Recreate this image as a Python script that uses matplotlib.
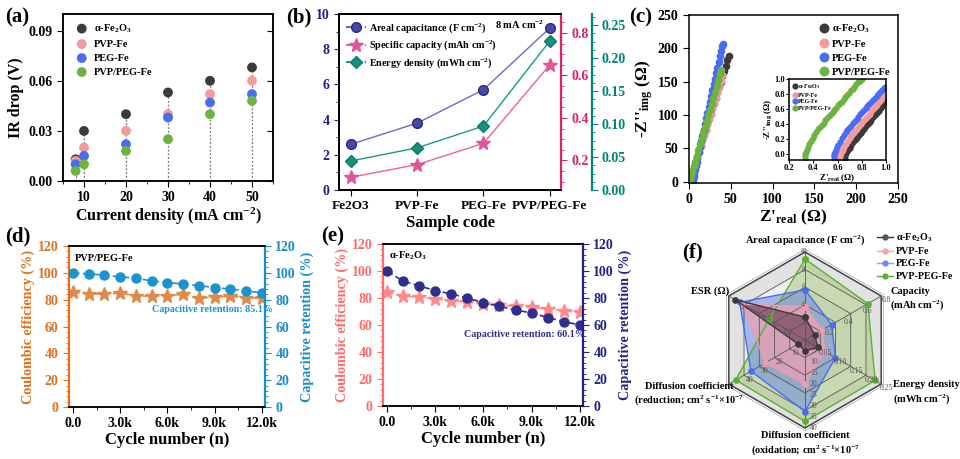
import matplotlib
matplotlib.use("Agg")
import matplotlib.pyplot as plt
import numpy as np
from matplotlib.lines import Line2D
from matplotlib.ticker import MultipleLocator, AutoMinorLocator, FuncFormatter

plt.rcParams["font.family"] = ["Liberation Serif", "DejaVu Serif"]
plt.rcParams["font.weight"] = "bold"
plt.rcParams["axes.labelweight"] = "bold"
plt.rcParams["mathtext.default"] = "regular"
plt.rcParams["axes.linewidth"] = 1.1

# ---------------- datos ----------------
# (a) IR drop
current_density = [8, 10, 20, 30, 40, 50]
ir_fe2o3 = [0.013, 0.030, 0.040, 0.053, 0.060, 0.068]
ir_pvp = [0.012, 0.020, 0.030, 0.040, 0.052, 0.060]
ir_peg = [0.010, 0.015, 0.022, 0.038, 0.047, 0.052]
ir_pvp_peg = [0.006, 0.010, 0.018, 0.025, 0.040, 0.048]

# (b) desempeño a 8 mA cm-2
samples = ["Fe2O3", "PVP-Fe", "PEG-Fe", "PVP/PEG-Fe"]
areal_cap = [2.6, 3.8, 5.7, 9.2]
spec_cap = [0.12, 0.18, 0.28, 0.65]
energy_den = [0.044, 0.064, 0.097, 0.226]

# (c) Nyquist
nyq_fe2o3_x = [0.7, 1.2, 2, 3, 4.5, 6, 8, 10, 12, 14, 16, 18, 20, 22, 24, 26, 28, 30,
               32, 34, 36, 38, 40, 42, 44, 46, 47.5]
nyq_fe2o3_y = [0, 1, 4, 8, 14, 21, 29, 37, 45, 53, 62, 70, 78, 86, 94, 102, 110, 118,
               126, 134, 142, 150, 158, 166, 174, 182, 188]
nyq_pvp_x = [0.6, 1.1, 2, 3, 4.5, 6, 8, 10, 12, 14, 16, 18, 20, 22, 24, 26, 28, 30,
             32, 34, 36, 38, 40]
nyq_pvp_y = [0, 1, 4, 8, 14, 21, 29, 37, 46, 54, 62, 70, 78, 86, 94, 102, 110, 118,
             126, 134, 142, 151, 160]
nyq_peg_x = [4.5, 5, 5.5, 6, 7, 8, 9, 10, 11.5, 13, 14.5, 16, 17.5, 19, 20.5, 22, 23.5,
             25, 26.5, 28, 29.5, 31, 32.5, 34, 35.5, 37, 38.5, 40, 41]
nyq_peg_y = [0, 3, 7, 12, 18, 24, 30, 36, 44, 52, 61, 69, 78, 86, 95, 103, 112, 120,
             129, 137, 146, 154, 163, 171, 180, 188, 196, 203, 206]
nyq_pvp_peg_x = [0.3, 0.6, 1, 1.5, 2.5, 4, 5.5, 7, 9, 11, 13, 15, 17, 19, 21, 23, 25,
                 27, 29, 31, 33, 35, 37, 38.6]
nyq_pvp_peg_y = [0, 2, 4, 6, 10, 16, 23, 29, 38, 47, 56, 64, 73, 82, 91, 100, 108, 117,
                 126, 135, 143, 152, 161, 167]

# (c) inset, zona de alta frecuencia
ins_fe2o3_x = [0.660, 0.662, 0.665, 0.670, 0.678, 0.688, 0.700, 0.715, 0.730, 0.745,
               0.760, 0.775, 0.790, 0.805, 0.820, 0.835, 0.850, 0.865, 0.880, 0.895,
               0.910, 0.925, 0.940, 0.955, 0.970, 0.985, 1.000]
ins_fe2o3_y = [-0.06, -0.03, 0.0, 0.02, 0.04, 0.06, 0.08, 0.12, 0.16, 0.19, 0.22, 0.25,
               0.28, 0.31, 0.34, 0.37, 0.40, 0.43, 0.46, 0.49, 0.52, 0.55, 0.58, 0.61,
               0.64, 0.68, 0.72]
ins_pvp_x = [0.615, 0.617, 0.620, 0.625, 0.633, 0.643, 0.655, 0.670, 0.685, 0.700, 0.715,
             0.730, 0.745, 0.760, 0.775, 0.790, 0.805, 0.820, 0.835, 0.850, 0.865, 0.880,
             0.895, 0.910, 0.925, 0.940, 0.955, 0.970, 0.985, 1.000]
ins_pvp_y = [-0.06, -0.03, 0.0, 0.02, 0.04, 0.06, 0.09, 0.14, 0.18, 0.22, 0.25, 0.28,
             0.31, 0.34, 0.37, 0.40, 0.43, 0.45, 0.48, 0.51, 0.54, 0.57, 0.60, 0.63,
             0.66, 0.69, 0.72, 0.75, 0.78, 0.81]
ins_peg_x = [0.568, 0.570, 0.573, 0.578, 0.586, 0.596, 0.608, 0.622, 0.637, 0.652, 0.667,
             0.682, 0.697, 0.712, 0.727, 0.742, 0.757, 0.772, 0.787, 0.802, 0.817, 0.832,
             0.847, 0.862, 0.877, 0.892, 0.907, 0.922, 0.937, 0.952, 0.967, 0.982, 0.995]
ins_peg_y = [-0.06, -0.03, 0.0, 0.03, 0.06, 0.09, 0.12, 0.16, 0.21, 0.25, 0.29, 0.32,
             0.35, 0.38, 0.41, 0.44, 0.47, 0.50, 0.53, 0.56, 0.59, 0.61, 0.64, 0.67,
             0.70, 0.72, 0.75, 0.77, 0.80, 0.83, 0.85, 0.88, 0.90]
ins_pvp_peg_x = [0.330, 0.331, 0.334, 0.338, 0.345, 0.355, 0.367, 0.380, 0.395, 0.410,
                 0.425, 0.440, 0.455, 0.470, 0.485, 0.500, 0.515, 0.530, 0.545, 0.560,
                 0.575, 0.590, 0.605, 0.620, 0.635, 0.650, 0.665, 0.680, 0.695, 0.710,
                 0.725, 0.740, 0.755, 0.770, 0.785, 0.800]
ins_pvp_peg_y = [-0.06, -0.03, 0.0, 0.03, 0.06, 0.10, 0.14, 0.18, 0.22, 0.26, 0.29, 0.33,
                 0.36, 0.39, 0.42, 0.45, 0.48, 0.51, 0.54, 0.56, 0.59, 0.62, 0.65, 0.68,
                 0.70, 0.73, 0.76, 0.79, 0.82, 0.85, 0.87, 0.90, 0.93, 0.96, 0.98, 1.0]

# (d) y (e) ciclado
cycles = [0, 1000, 2000, 3000, 4000, 5000, 6000, 7000, 8000, 9000, 10000, 11000, 12000]
ce_pvp_peg = [85.5, 84.5, 84, 85, 83, 82.5, 83, 84, 81, 82, 82.5, 81.5, 81]
ret_pvp_peg = [100, 99.2, 98.3, 97, 96, 94, 92.7, 91.7, 90.5, 89, 87.9, 86.6, 85.1]
ce_fe2o3 = [84.5, 81.5, 80.5, 79.5, 78, 77, 75.5, 74.5, 74, 73, 72, 70.5, 69.5]
ret_fe2o3 = [100, 92.5, 89, 85.5, 83, 80, 76.5, 74, 71, 69, 65.5, 62.5, 60.1]

# (f) radar
radar_labels = ["Areal capacitance (F cm$^{-2}$)", "Capacity\n(mAh cm$^{-2}$)",
                "Energy density\n(mWh cm$^{-2}$)",
                "Diffusion coefficient\n(oxidation; cm$^{2}$ s$^{-1}$×10$^{-7}$",
                "Diffusion coefficient\n(reduction; cm$^{2}$ s$^{-1}$×10$^{-7}$",
                "ESR (Ω)"]
radar_max = [10, 0.8, 0.25, 40, 50, 0.7]
radar_ticks = [[2, 4, 6, 8, 10], [0.2, 0.4, 0.6, 0.8], [0.05, 0.10, 0.15, 0.20, 0.25],
               [5, 10, 15, 20, 25, 30, 35, 40], [10, 20, 30, 40], [0.0, 0.2, 0.4, 0.6]]
radar_tick_fmt = ["{:g}", "{:.1f}", "{:.2f}", "{:g}", "{:g}", "{:.1f}"]
radar_fe2o3 = [2.6, 0.10, 0.042, 5, 4.5, 0.64]
radar_pvp = [3.8, 0.18, 0.065, 20, 26, 0.57]
radar_peg = [5.7, 0.28, 0.10, 32.5, 35.5, 0.60]
radar_pvp_peg = [9.2, 0.66, 0.23, 37, 45.5, 0.33]

names = ["α-Fe$_2$O$_3$", "PVP-Fe", "PEG-Fe", "PVP/PEG-Fe"]
c_fe = "#3a3a3a"
c_pvp = "#f49a9a"
c_peg = "#4a6cf0"
c_mix = "#6cb33f"

W, H = 960, 459
fig = plt.figure(figsize=(9.6, 4.59), dpi=100)


def px_axes(l, r, t, b):
    return fig.add_axes([l / W, 1 - b / H, (r - l) / W, (b - t) / H])


TICK = 10
LAB = 11

# ---------------- (a) ----------------
ax = px_axes(63, 273, 14, 181)
tops = np.max([ir_fe2o3, ir_pvp, ir_peg, ir_pvp_peg], axis=0)
ax.vlines(current_density, 0, tops, colors="#777777", linestyles=(0, (1.5, 1.5)), lw=0.9)
for ys, c, n in zip([ir_fe2o3, ir_pvp, ir_peg, ir_pvp_peg], [c_fe, c_pvp, c_peg, c_mix], names):
    ax.scatter(current_density, ys, s=50, color=c, edgecolor="none", zorder=3, label=n)
ax.set_xlim(5, 55)
ax.set_ylim(0, 0.1)
ax.xaxis.set_major_locator(MultipleLocator(10))
ax.xaxis.set_minor_locator(MultipleLocator(5))
ax.yaxis.set_major_locator(MultipleLocator(0.03))
ax.yaxis.set_major_formatter(FuncFormatter(lambda v, p: f"{v:.2f}"))
ax.tick_params(labelsize=TICK, length=4)
ax.tick_params(which="minor", length=2)
axr = ax.twinx()
axr.set_ylim(0, 0.1)
axr.yaxis.set_major_locator(MultipleLocator(0.03))
axr.tick_params(direction="in", labelright=False, length=4)
ax.set_xlabel("Current density (mA cm$^{-2}$)", fontsize=LAB + 0.5, labelpad=1)
ax.set_ylabel("IR drop (V)", fontsize=LAB + 0.5, labelpad=3)
ax.legend(loc="upper left", frameon=False, fontsize=7.5, handletextpad=0.2,
          borderaxespad=0.4, labelspacing=0.45, scatterpoints=1)

# ---------------- (b) ----------------
c_areal = "#1f1f8f"
c_spec = "#d6246e"
c_en = "#008577"
bx = px_axes(339, 561, 14, 190)
xpos = np.arange(len(samples))
bx.plot(xpos, areal_cap, "-", color="#6a6acd", lw=1.0, marker="o", ms=7,
        mfc="#4848a8", mec="#2a2a80")
bx.set_xlim(-0.18, 3.17)
bx.set_ylim(0, 10)
bx.set_xticks(xpos)
bx.set_xticklabels(samples)
bx.yaxis.set_major_locator(MultipleLocator(2))
bx.yaxis.set_minor_locator(MultipleLocator(1))
bx.tick_params(axis="y", colors=c_areal, labelsize=TICK)
bx.tick_params(axis="x", labelsize=9.5, length=4)
bx.spines["left"].set_color(c_areal)
bx.set_xlabel("Sample code", fontsize=LAB + 1, labelpad=2)

bx2 = bx.twinx()
bx2.plot(xpos, spec_cap, "-", color="#f0609a", lw=1.0, marker="*", ms=10,
         mfc="#e0559a", mec="#e0559a")
bx2.set_ylim(0.06, 0.89)
bx2.yaxis.set_major_locator(MultipleLocator(0.2))
bx2.yaxis.set_minor_locator(MultipleLocator(0.05))
bx2.tick_params(axis="y", which="both", colors=c_spec, labelsize=TICK)
bx2.spines["right"].set_color(c_spec)
bx2.spines["right"].set_linewidth(1.6)

bx3 = bx.twinx()
bx3.spines["right"].set_position(("outward", 22))
bx3.plot(xpos, energy_den, "-", color="#1a9a8a", lw=1.0, marker="D", ms=6,
         mfc="#14907f", mec="#0f7a6c")
bx3.set_ylim(0, 0.267)
bx3.yaxis.set_major_locator(MultipleLocator(0.05))
bx3.yaxis.set_minor_locator(MultipleLocator(0.0125))
bx3.yaxis.set_major_formatter(FuncFormatter(lambda v, p: f"{v:.2f}"))
bx3.tick_params(axis="y", which="both", colors=c_en, labelsize=TICK)
bx3.spines["right"].set_color(c_en)
bx3.spines["right"].set_linewidth(1.6)
for a in (bx2, bx3):
    a.tick_params(which="major", length=4)
    a.tick_params(which="minor", length=2)

leg_b = [
    Line2D([], [], color="#6a6acd", ls=(0, (3, 1.5)), marker="o", ms=7, mfc="#4848a8",
           mec="#2a2a80", label="Areal capacitance (F cm$^{-2}$)"),
    Line2D([], [], color="#f0609a", ls=(0, (3, 1.5)), marker="*", ms=10, mfc="#e0559a",
           mec="#e0559a", label="Specific capacity (mAh cm$^{-2}$)"),
    Line2D([], [], color="#1a9a8a", ls=(0, (3, 1.5)), marker="D", ms=6, mfc="#14907f",
           mec="#0f7a6c", label="Energy density (mWh cm$^{-2}$)"),
]
bx3.legend(handles=leg_b, loc="upper left", frameon=False, fontsize=7.3, handlelength=2.0,
           handletextpad=0.3, borderaxespad=0.3, labelspacing=0.35)
bx.text(2.17, 9.4, "8 mA cm$^{-2}$", fontsize=7.5, ha="left", va="center")

# ---------------- (c) ----------------
cx = px_axes(689, 898, 15, 183)
for xs, ys, c, n in zip([nyq_fe2o3_x, nyq_pvp_x, nyq_peg_x, nyq_pvp_peg_x],
                        [nyq_fe2o3_y, nyq_pvp_y, nyq_peg_y, nyq_pvp_peg_y],
                        [c_fe, c_pvp, c_peg, c_mix], names):
    cx.plot(xs, ys, "o", ms=5.5, color=c, mec="none", label=n)
cx.set_xlim(0, 250)
cx.set_ylim(-2, 250)
cx.xaxis.set_major_locator(MultipleLocator(50))
cx.yaxis.set_major_locator(MultipleLocator(50))
cx.tick_params(labelsize=TICK, length=4)
cx.set_xlabel("Z'$_{real}$ (Ω)", fontsize=LAB + 1.5, labelpad=1)
cx.set_ylabel("-Z''$_{img}$ (Ω)", fontsize=LAB + 1.5, labelpad=2)
cx.legend(loc="upper right", frameon=False, fontsize=7.5, handletextpad=0.3,
          borderaxespad=0.3, labelspacing=0.45, markerscale=1.3, handlelength=1.0)

ix = px_axes(789, 886, 79, 160)
for xs, ys, c, n in zip([ins_fe2o3_x, ins_pvp_x, ins_peg_x, ins_pvp_peg_x],
                        [ins_fe2o3_y, ins_pvp_y, ins_peg_y, ins_pvp_peg_y],
                        [c_fe, c_pvp, c_peg, c_mix],
                        ["α-Fe$_2$O$_3$", "PVP-Fe", "PEG-Fe", "PVP/PEG-Fe"]):
    ix.plot(xs, ys, "o", ms=4.5, color=c, mec="none", label=n)
ix.set_xlim(0.2, 1.0)
ix.set_ylim(-0.08, 1.0)
ix.xaxis.set_major_locator(MultipleLocator(0.2))
ix.yaxis.set_major_locator(MultipleLocator(0.2))
ix.yaxis.set_minor_locator(MultipleLocator(0.05))
ix.tick_params(labelsize=6, length=2, pad=1)
ix.tick_params(which="minor", length=1)
ix.set_xlabel("Z'$_{real}$ (Ω)", fontsize=6.5, labelpad=0)
ix.set_ylabel("-Z''$_{img}$ (Ω)", fontsize=6.5, labelpad=0)
ix.legend(loc="upper left", frameon=False, fontsize=4.3, handletextpad=0.1,
          borderaxespad=0.2, labelspacing=0.2, handlelength=0.8)

# ---------------- (d) y (e) ----------------
kfmt = FuncFormatter(lambda v, p: "0.0" if v == 0 else f"{v / 1000:.1f}k")


def cycling(l, r, t, b, ce, ret, c_left, c_star, c_right, c_ball, title, ret_text, ret_pos):
    a = px_axes(l, r, t, b)
    a.plot(cycles, ce, ls=(0, (4, 2)), color=c_star, lw=1.2, marker="*", ms=10,
           mfc=c_star, mec=c_star)
    a.set_xlim(-250, 12200)
    a.set_ylim(0, 120)
    a.xaxis.set_major_locator(MultipleLocator(3000))
    a.xaxis.set_minor_locator(MultipleLocator(1500))
    a.xaxis.set_major_formatter(kfmt)
    a.yaxis.set_major_locator(MultipleLocator(20))
    a.yaxis.set_minor_locator(AutoMinorLocator(5))
    a.tick_params(axis="y", which="both", colors=c_left)
    a.tick_params(labelsize=TICK, length=4)
    a.tick_params(which="minor", length=2)
    a.spines["left"].set_color(c_left)
    a.spines["left"].set_linewidth(1.6)
    a.set_xlabel("Cycle number (n)", fontsize=LAB + 1, labelpad=1)
    a.set_ylabel("Coulombic efficiency (%)", fontsize=LAB - 0.8, color=c_left, labelpad=2)
    a2 = a.twinx()
    a2.plot(cycles, ret, ls=(0, (4, 2)), color=c_ball, lw=1.2, marker="o", ms=6.5,
            mfc=c_ball, mec=c_ball)
    a2.set_ylim(0, 120)
    a2.yaxis.set_major_locator(MultipleLocator(20))
    a2.yaxis.set_minor_locator(AutoMinorLocator(5))
    a2.tick_params(axis="y", which="both", colors=c_right, labelsize=TICK)
    a2.tick_params(which="major", length=4)
    a2.tick_params(which="minor", length=2)
    a2.spines["right"].set_color(c_right)
    a2.spines["right"].set_linewidth(1.6)
    a2.spines["left"].set_visible(False)
    a2.set_ylabel("Capacitive retention (%)", fontsize=LAB - 0.8, color=c_right, labelpad=3)
    a.text(100, 111, title, fontsize=7.5, ha="left", va="center")
    a.text(ret_pos[0], ret_pos[1], ret_text, fontsize=7.2, ha="left", va="center",
           color=c_ball)
    return a


cycling(69, 265, 246, 407, ce_pvp_peg, ret_pvp_peg, "#e0701e", "#e08a4a", "#1a8cc8",
        "#1b93cf", "PVP/PEG-Fe", "Capacitive retention: 85.1%", (5000, 73))
cycling(383, 583, 244, 406, ce_fe2o3, ret_fe2o3, "#ff6b6b", "#ff8a8a", "#22228a",
        "#2e2e8e", "α-Fe$_2$O$_3$", "Capacitive retention: 60.1%", (4800, 53))

# ---------------- (f) radar ----------------
R = 88
fx = px_axes(805 - 105, 805 + 105, 340 - 105, 340 + 105)
lim = 105 / R
fx.set_xlim(-lim, lim)
fx.set_ylim(-lim, lim)
fx.axis("off")
theta = np.deg2rad([90, 30, -30, -90, -150, 150])
ct, st = np.cos(theta), np.sin(theta)


def hexa(r):
    return np.append(r * ct, r * ct[0]), np.append(r * st, r * st[0])


band_cols = ["#e2e2e2", "#efefef", "#e6e6e6", "#f2f2f2", "#e8e8e8"]
for k, r in enumerate([1.0, 0.8, 0.6, 0.4, 0.2]):
    hx, hy = hexa(r)
    fx.fill(hx, hy, color=band_cols[k], lw=0)
for r in [0.2, 0.4, 0.6, 0.8]:
    hx, hy = hexa(r)
    fx.plot(hx, hy, color="#555555", lw=0.6)
hx, hy = hexa(1.0)
fx.plot(hx, hy, color="#444444", lw=1.1)
hx, hy = hexa(1.03)
fx.plot(hx, hy, color="#b0b0b0", lw=0.6)
for x, y in zip(ct, st):
    fx.plot([0, x], [0, y], color="#555555", lw=0.6)

series_f = [radar_pvp_peg, radar_peg, radar_pvp, radar_fe2o3]
fill_f = ["#9cc26a", "#6a88e0", "#f4a0b4", "#5a2a40"]
alpha_f = [0.45, 0.55, 0.7, 0.55]
line_f = ["#5ab030", "#4a6cf0", "#f49aa8", "#3a3a3a"]
for vals, fc, al in zip(series_f, fill_f, alpha_f):
    r = np.array(vals) / np.array(radar_max)
    fx.fill(r * ct, r * st, color=fc, alpha=al, lw=0)
for vals, lc in zip(series_f, line_f):
    r = np.array(vals) / np.array(radar_max)
    fx.plot(np.append(r * ct, r[0] * ct[0]), np.append(r * st, r[0] * st[0]),
            color=lc, lw=1.0, marker="o", ms=3.8, mfc=lc, mec=lc)

for i in range(6):
    for tv in radar_ticks[i]:
        r = tv / radar_max[i]
        dx, dy = 0.06, -0.05
        if i == 0:
            dx, dy = -0.02, 0.0
        elif i == 3:
            dx, dy = 0.1, 0.0
        fx.text(r * ct[i] + dx, r * st[i] + dy, radar_tick_fmt[i].format(tv), fontsize=5.5,
                color="#555555", ha="center", va="center", fontweight="normal")

fx.text(0, 1.14, radar_labels[0], fontsize=7.5, ha="center", va="center")
fx.text(0.97, 0.46, radar_labels[1], fontsize=7.5, ha="left", va="center", linespacing=1.3)
fx.text(1.0, -0.6, radar_labels[2], fontsize=7.5, ha="left", va="center", linespacing=1.3)
fx.text(0, -1.18, radar_labels[3], fontsize=7.5, ha="center", va="center", linespacing=1.3)
fx.text(-1.32, -0.62, radar_labels[4], fontsize=7.5, ha="center", va="center", linespacing=1.3)
fx.text(-0.86, 0.55, radar_labels[5], fontsize=7.5, ha="right", va="center")

leg_f = [Line2D([], [], color=c, lw=1.0, marker="o", ms=3.5, mfc=m, mec=m, label=n)
         for c, m, n in zip(["#333333", "#f4a6a6", "#8fa0f0", "#5ab030"],
                            ["#555555", "#f4a6a6", "#6f88f0", "#5ab030"],
                            ["α-Fe$_2$O$_3$", "PVP-Fe", "PEG-Fe", "PVP-PEG-Fe"])]
fig.legend(handles=leg_f, loc="upper left", bbox_to_anchor=(868 / W, 1 - 222 / H),
           frameon=False, fontsize=7.2, handlelength=1.6, handletextpad=0.3,
           labelspacing=0.35)

# etiquetas de panel
for txt, x, y in [("(a)", 5, 17), ("(b)", 286, 17), ("(c)", 629, 17), ("(d)", 5, 236),
                  ("(e)", 321, 236), ("(f)", 682, 252)]:
    fig.text(x / W, 1 - y / H, txt, fontsize=15, ha="left", va="center")

fig.savefig("out.png", dpi=100)
